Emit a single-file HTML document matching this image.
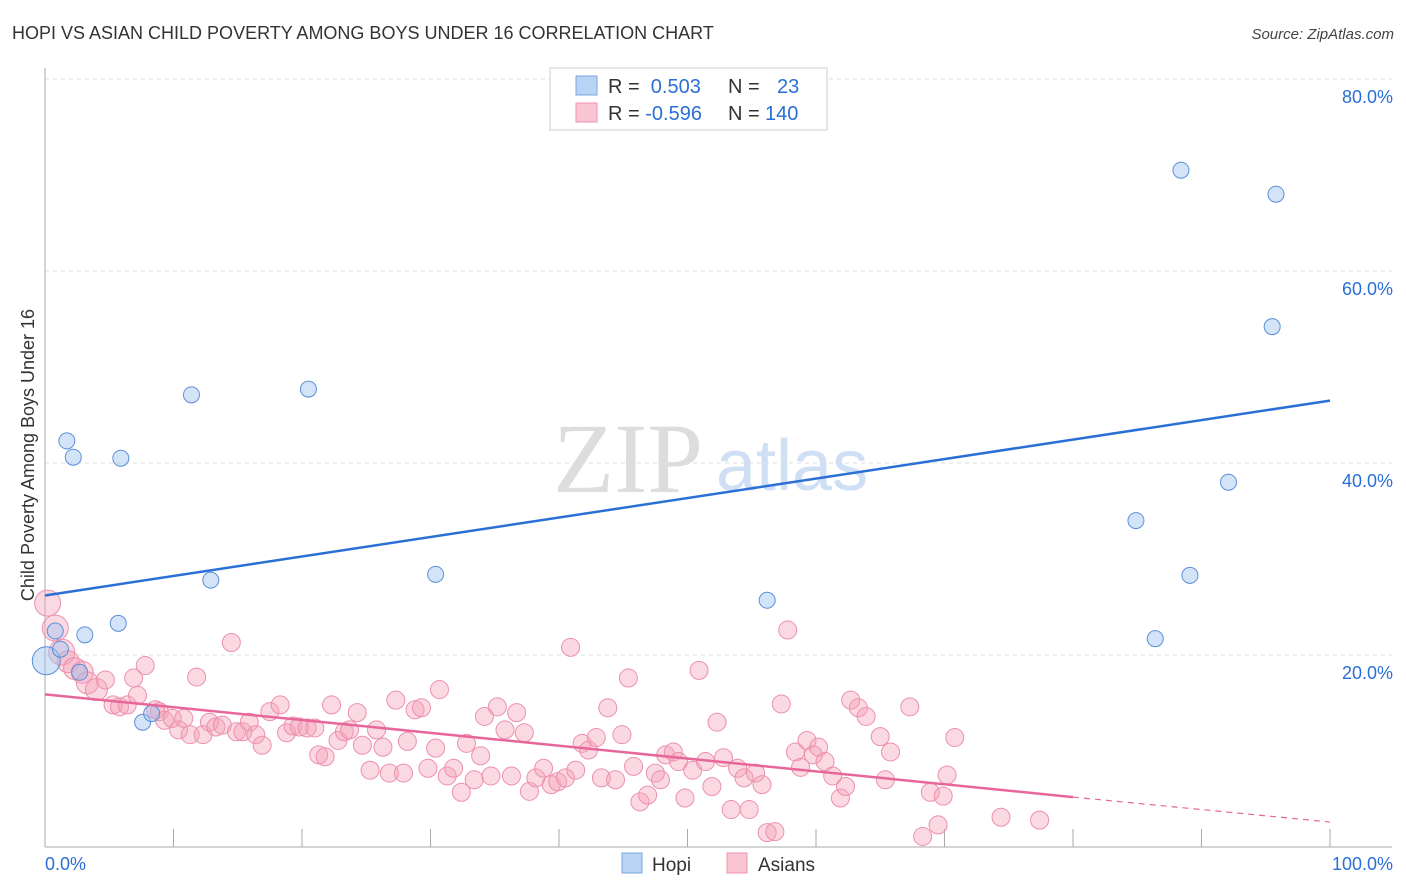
<!DOCTYPE html>
<html><head><meta charset="utf-8"><style>
body{margin:0;background:#fff;font-family:"Liberation Sans",sans-serif}
svg{display:block}
</style></head><body>
<svg id="c" width="1406" height="892" xmlns="http://www.w3.org/2000/svg">
<text x="12" y="39" font-size="18" fill="#333">HOPI VS ASIAN CHILD POVERTY AMONG BOYS UNDER 16 CORRELATION CHART</text>
<text x="1394" y="39" font-size="15" fill="#444" text-anchor="end" font-style="italic">Source: ZipAtlas.com</text>
<text x="553" y="492" font-size="100" fill="#ddd" font-family="Liberation Serif,serif">ZIP</text>
<text x="716" y="490" font-size="72" fill="#cfe0f5">atlas</text>
<text transform="translate(34,455) rotate(-90)" font-size="18" fill="#333" text-anchor="middle">Child Poverty Among Boys Under 16</text>
<g id="grid"></g><g id="pts"></g><g id="lines"></g>
<g>
<rect x="550" y="68" width="277" height="62" fill="#fff" stroke="#ccc"/>
<rect x="576" y="76" width="21" height="19" fill="#b9d3f5" stroke="#7aa7e0"/>
<rect x="576" y="103" width="21" height="19" fill="#f9c5d3" stroke="#ee93ae"/>
<text x="608" y="93" font-size="20" fill="#333">R = <tspan fill="#2a6fd6">&#160;0.503</tspan><tspan x="728">N = </tspan><tspan fill="#2a6fd6" x="777">23</tspan></text>
<text x="608" y="120" font-size="20" fill="#333">R = <tspan fill="#2a6fd6">-0.596</tspan><tspan x="728">N = </tspan><tspan fill="#2a6fd6" x="765">140</tspan></text>
</g>
<g>
<rect x="622" y="853" width="20" height="20" fill="#b9d3f5" stroke="#7aa7e0"/>
<text x="652" y="871" font-size="19" fill="#333">Hopi</text>
<rect x="727" y="853" width="20" height="20" fill="#f9c5d3" stroke="#ee93ae"/>
<text x="758" y="871" font-size="19" fill="#333">Asians</text>
</g>
</svg>
<script>
const yTicks=[20,40,60,80];
const xTickLabels=["0.0%","100.0%"];
const hopiX=[0.1,0.8,1.2,1.7,2.2,2.7,3.1,5.7,5.9,7.6,8.3,11.4,12.9,20.5,30.4,56.2,84.9,86.4,88.4,89.1,92.1,95.5,95.8];
const hopiY=[19.4,22.5,20.6,42.3,40.6,18.2,22.1,23.3,40.5,13.0,13.9,47.1,27.8,47.7,28.4,25.7,34.0,21.7,70.5,28.3,38.0,54.2,68.0];
const asianX=[0.2,0.8,1.3,1.8,2.3,2.9,3.3,4.0,4.7,5.3,5.8,6.4,6.9,7.2,7.8,8.6,8.9,9.3,9.9,10.4,10.8,11.3,11.8,12.3,12.8,13.3,13.8,14.5,14.9,15.4,15.9,16.4,16.9,17.5,18.3,18.8,19.3,19.8,20.4,21.0,21.3,21.8,22.3,22.8,23.3,23.7,24.3,24.7,25.3,25.8,26.3,26.8,27.3,27.9,28.2,28.8,29.3,29.8,30.4,30.7,31.3,31.8,32.4,32.8,33.4,33.9,34.2,34.7,35.2,35.8,36.3,36.7,37.3,37.7,38.2,38.8,39.4,39.9,40.5,40.9,41.3,41.8,42.3,42.9,43.3,43.8,44.4,44.9,45.4,45.8,46.3,46.9,47.5,47.9,48.3,48.9,49.3,49.8,50.4,50.9,51.4,51.9,52.3,52.8,53.4,53.9,54.4,54.8,55.3,55.8,56.2,56.8,57.3,57.8,58.4,58.8,59.3,59.8,60.2,60.7,61.3,61.9,62.3,62.7,63.3,63.9,65.0,65.4,65.8,67.3,68.3,68.9,69.5,69.9,70.2,70.8,74.4,77.4];
const asianY=[25.4,22.8,20.3,19.3,18.6,18.2,17.1,16.4,17.4,14.8,14.6,14.8,17.6,15.8,18.9,14.3,14.1,13.2,13.4,12.2,13.4,11.7,17.7,11.7,13.0,12.5,12.7,21.3,12.0,12.0,13.0,11.7,10.6,14.1,14.8,11.9,12.6,12.5,12.4,12.4,9.6,9.4,14.8,11.1,12.0,12.2,14.0,10.6,8.0,12.2,10.4,7.7,15.3,7.7,11.0,14.3,14.5,8.2,10.3,16.4,7.4,8.2,5.7,10.8,7.0,9.5,13.6,7.4,14.6,12.2,7.4,14.0,11.9,5.8,7.2,8.2,6.5,6.8,7.2,20.8,8.0,10.8,10.1,11.4,7.2,14.5,7.0,11.7,17.6,8.4,4.7,5.4,7.7,7.0,9.6,9.9,8.9,5.1,8.0,18.4,8.9,6.3,13.0,9.3,3.9,8.2,7.2,3.9,7.7,6.5,1.5,1.6,14.9,22.6,9.9,8.3,11.1,9.6,10.4,8.9,7.4,5.1,6.3,15.3,14.5,13.6,11.5,7.0,9.9,14.6,1.1,5.7,2.3,5.3,7.5,11.4,3.1,2.8];
const hopiTrend=[0,26.2,100,46.5];
const asianTrend=[0,15.9,80,5.2,100,2.6];
const NS="http://www.w3.org/2000/svg";
const X=v=>45+v*12.85, Y=v=>847-v*9.6;
function mk(t,a,p){const e=document.createElementNS(NS,t);for(const k in a)e.setAttribute(k,a[k]);p.appendChild(e);return e;}
const g=document.getElementById('grid');
for(const t of yTicks){const l=mk('line',{x1:45,x2:1392,y1:Y(t),y2:Y(t),stroke:'#ddd','stroke-dasharray':'4,4'},g);


const tx=mk('text',{x:1393,y:Y(t)+24,'font-size':18,fill:'#2a6fd6','text-anchor':'end'},g);tx.textContent=t.toFixed(1)+'%';

}
mk('line',{x1:45,x2:1392,y1:Y(80),y2:Y(80),stroke:'#ddd','stroke-dasharray':'4,4'},g);
mk('line',{x1:45,x2:45,y1:68,y2:847,stroke:'#aaa'},g);
mk('line',{x1:45,x2:1392,y1:847,y2:847,stroke:'#aaa'},g);
for(let i=0;i<=10;i++){const x=X(i*10);mk('line',{x1:x,x2:x,y1:829,y2:847,stroke:'#aaa'},g);}
const a0=mk('text',{x:45,y:870,'font-size':18,fill:'#2a6fd6'},g);a0.textContent=xTickLabels[0];


const a1=mk('text',{x:1393,y:870,'font-size':18,fill:'#2a6fd6','text-anchor':'end'},g);a1.textContent=xTickLabels[1];


const p=document.getElementById('pts');
asianX.forEach((x,i)=>{const r=i<8?(i<3?13:11):9;const c=mk('circle',{cx:X(x),cy:Y(asianY[i]),r:r,fill:'rgba(245,160,185,0.4)',stroke:'#ec90ad','stroke-width':1},p);

});
hopiX.forEach((x,i)=>{const c=mk('circle',{cx:X(x),cy:Y(hopiY[i]),r:i==0?14:8,fill:'rgba(160,195,240,0.45)',stroke:'#5b8fd8','stroke-width':1},p);

});
const L=document.getElementById('lines');
const hl=mk('line',{x1:X(hopiTrend[0]),y1:Y(hopiTrend[1]),x2:X(hopiTrend[2]),y2:Y(hopiTrend[3]),stroke:'#2a6fd6','stroke-width':2.5},L);


const al=mk('line',{x1:X(asianTrend[0]),y1:Y(asianTrend[1]),x2:X(asianTrend[2]),y2:Y(asianTrend[3]),stroke:'#e8679a','stroke-width':2.5},L);


const ad=mk('line',{x1:X(asianTrend[2]),y1:Y(asianTrend[3]),x2:X(asianTrend[4]),y2:Y(asianTrend[5]),stroke:'#e8679a','stroke-width':1.2,'stroke-dasharray':'6,5'},L);


</script>
</body></html>
